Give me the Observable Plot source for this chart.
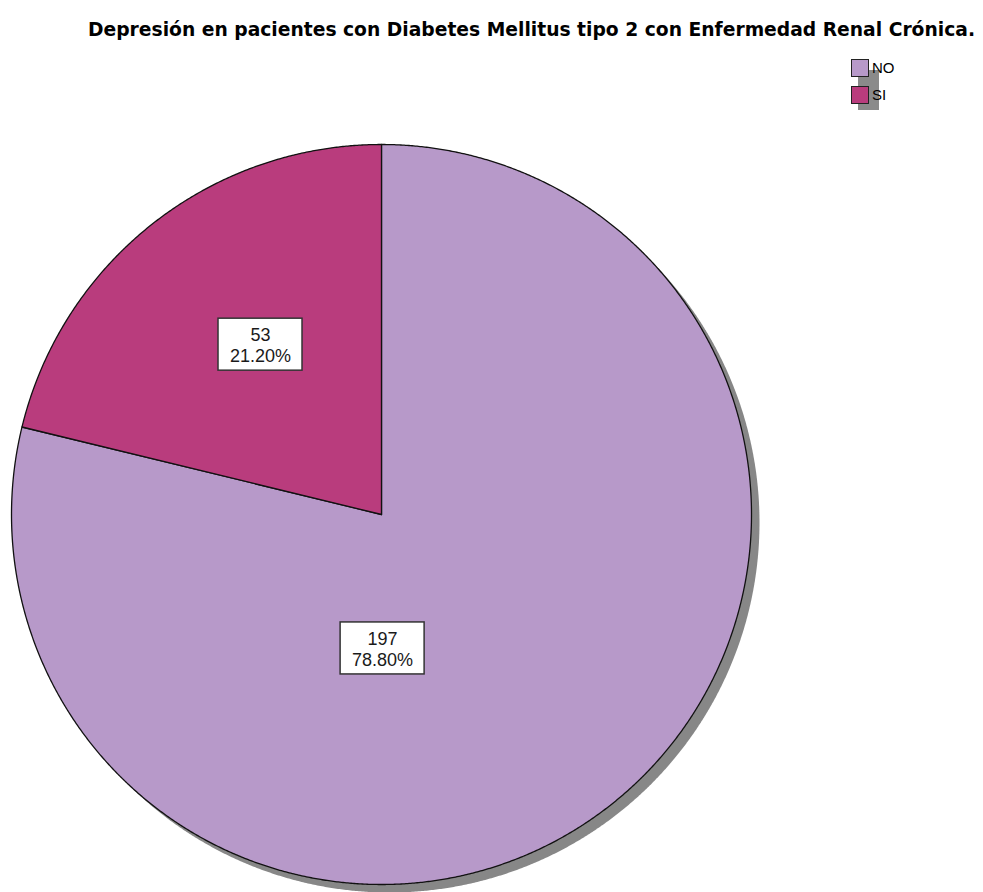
<!DOCTYPE html>
<html>
<head>
<meta charset="utf-8">
<script src="https://cdn.jsdelivr.net/npm/d3@7"></script>
<script src="https://cdn.jsdelivr.net/npm/@observablehq/plot@0.6"></script>
<style>
  html, body { margin: 0; padding: 0; background: #fff; }
  #wrap { position: relative; width: 983px; height: 892px; overflow: hidden; }
  #header { position: relative; width: 983px; height: 120px; }
  #title { position: absolute; left: 88px; top: 17px; transform-origin: 0 0;
           font-family: "DejaVu Sans Condensed", "Liberation Sans Narrow", "Liberation Sans", sans-serif; font-weight: bold; font-size: 20px; color: #000; white-space: nowrap; }
  #legend { position: absolute; left: 851px; top: 54px; font-family: "Liberation Sans", Arial, sans-serif; font-size: 15px; color: #000; }
  .lg-shadow { position: absolute; left: 7px; top: 16px; width: 21px; height: 40px; background: #8a8a8a; }
  .lg-item { position: relative; height: 27px; display: flex; align-items: center; }
  .lg-sw { width: 18px; height: 18px; border: 1px solid #222; box-sizing: border-box; margin-right: 3px; }
  .lg-tx { line-height: 17px; }
</style>
</head>
<body>
<div id="wrap">
  <div id="header">
    <span id="title"></span>
    <div id="legend"><div class="lg-shadow"></div></div>
  </div>
  <div id="chart"></div>
</div>
<script>
// ---- data ----
const titleText = "Depresión en pacientes con Diabetes Mellitus tipo 2 con Enfermedad Renal Crónica.";
const categories = ["NO", "SI"];
const counts = [197, 53];
const percentLabels = ["78.80%", "21.20%"];
const colors = ["#b799c9", "#b93c7d"];

// ---- header ----
const titleEl = document.getElementById("title");
titleEl.textContent = titleText;
const tw = titleEl.getBoundingClientRect().width;
titleEl.style.transform = `scaleX(${887 / tw})`;

const legend = document.getElementById("legend");
categories.forEach((c, i) => {
  const item = document.createElement("div");
  item.className = "lg-item";
  item.innerHTML = `<div class="lg-sw" style="background:${colors[i]}"></div><div class="lg-tx">${c}</div>`;
  legend.appendChild(item);
});

// ---- slice geometry (unit circle, clockwise from 12 o'clock) ----
const pie = d3.pie().sort(null).value(d => d)(counts);
const step = Math.PI / 720;
function slicePoints(a0, a1) {
  const pts = [{x: 0, y: 0}];
  const n = Math.max(2, Math.ceil((a1 - a0) / step));
  for (let k = 0; k <= n; k++) {
    const a = a0 + (a1 - a0) * k / n;
    pts.push({x: Math.sin(a), y: Math.cos(a)});
  }
  pts.push({x: 0, y: 0});
  return pts;
}
const circle = [];
for (let k = 0; k <= 1440; k++) {
  const a = 2 * Math.PI * k / 1440;
  circle.push({x: Math.sin(a), y: Math.cos(a)});
}

// label anchors (layout, in unit-circle coordinates)
const labelAnchor = [
  {x: 0.003, y: -0.362},
  {x: -0.327, y: 0.459}
];
const labels = categories.map((c, i) => ({
  x: labelAnchor[i].x, y: labelAnchor[i].y,
  text: `${counts[i]}\n${percentLabels[i]}`
}));

const W = 983, H = 772, R = 370, CX = 381, CY = 394;
const marks = [
  Plot.line(circle, {x: "x", y: "y", fill: "#878787", stroke: "none", dx: 8, dy: 8, curve: "linear"}),
  ...pie.map((p, i) => Plot.line(slicePoints(p.startAngle, p.endAngle), {
    x: "x", y: "y", fill: colors[i], stroke: "#111", strokeWidth: 1.3, strokeLinejoin: "round"
  })),
  Plot.rect(labels, {x1: "x", x2: "x", y1: "y", y2: "y", insetLeft: -42, insetRight: -42, insetTop: -26, insetBottom: -26,
    fill: "#fff", stroke: "#333", strokeWidth: 1.5}),
  Plot.text(labels, {x: "x", y: "y", text: "text", fontSize: 18, lineHeight: 1.17, fill: "#1a1a1a",
    fontFamily: "Liberation Sans, Arial, sans-serif"})
];

const chart = Plot.plot({
  width: W, height: H,
  marginLeft: CX - R, marginRight: W - (CX + R),
  marginTop: CY - R, marginBottom: H - (CY + R),
  x: {domain: [-1, 1], axis: null},
  y: {domain: [-1, 1], axis: null},
  style: {background: "transparent", overflow: "visible"},
  marks
});
document.getElementById("chart").appendChild(chart);
</script>
</body>
</html>
